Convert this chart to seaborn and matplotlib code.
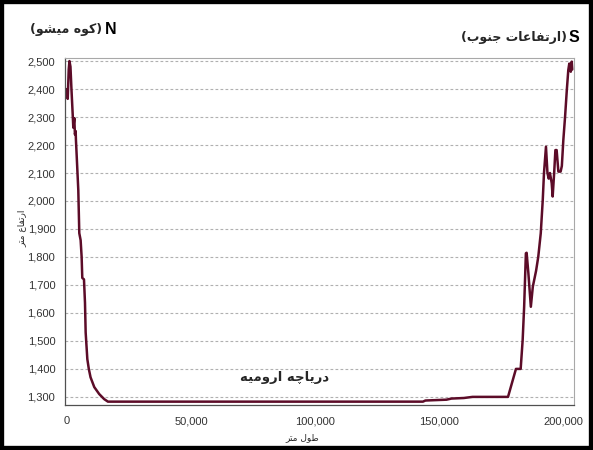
import numpy as np
import pandas as pd
import matplotlib
matplotlib.use('Agg')
import matplotlib.pyplot as plt
import seaborn as sns
from matplotlib.patches import Rectangle
from matplotlib.ticker import FuncFormatter

# -------------------------------
# Profile data (distance in m, elevation in m)
# -------------------------------
dist_m = [0, 300, 700, 1000, 1400, 1800, 2300, 2550, 2950, 3200, 3500, 3600,
          3900, 4560, 4960, 5500, 5900, 6170, 6850, 7260, 7530, 8200, 8800,
          9500, 11000, 13000, 15000, 16500,
          143500, 144500, 153000, 155000, 160000, 163500, 177800,
          181000, 182900, 183700, 184300, 185000, 185300, 186000, 187000,
          187800, 189100, 190000, 191000, 191800, 192300, 193100, 193700,
          194200, 194700, 195400, 195800, 196400, 196900, 197400, 198100,
          199000, 199500, 200100, 200800, 201500, 202100, 202500, 203100,
          203500, 203700]
elev_m = [2400, 2365, 2470, 2500, 2480, 2400, 2310, 2262, 2296, 2238, 2250, 2220,
          2164, 2039, 1885, 1860, 1801, 1725, 1720, 1636, 1530, 1435, 1400,
          1370, 1335, 1310, 1292, 1283,
          1283, 1287, 1290, 1294, 1296, 1300, 1300,
          1400, 1400, 1503, 1622, 1813, 1815, 1743, 1622,
          1694, 1750, 1801, 1885, 2003, 2100, 2194, 2100,
          2080, 2100, 2064, 2016, 2100, 2182, 2182, 2105,
          2105, 2125, 2218, 2301, 2396, 2468, 2491, 2462,
          2498, 2470]

y_ticks = list(range(1300, 2501, 100))
x_ticks = [0, 50000, 100000, 150000, 200000]

title_n = "(کوه میشو)"
title_s = "(ارتفاعات جنوب)"
lake_label = "دریاچه ارومیه"
y_label = "ارتفاع متر"
x_label = "طول متر"

# -------------------------------
# Simple Persian shaping (matplotlib has no text shaping)
# -------------------------------
FORMS = {
    'ا': ('\uFE8D', '\uFE8E', None, None),
    'ب': ('\uFE8F', '\uFE90', '\uFE91', '\uFE92'),
    'ت': ('\uFE95', '\uFE96', '\uFE97', '\uFE98'),
    'ج': ('\uFE9D', '\uFE9E', '\uFE9F', '\uFEA0'),
    'د': ('\uFEA9', '\uFEAA', None, None),
    'ر': ('\uFEAD', '\uFEAE', None, None),
    'ش': ('\uFEB5', '\uFEB6', '\uFEB7', '\uFEB8'),
    'ط': ('\uFEC1', '\uFEC2', '\uFEC3', '\uFEC4'),
    'ع': ('\uFEC9', '\uFECA', '\uFECB', '\uFECC'),
    'ف': ('\uFED1', '\uFED2', '\uFED3', '\uFED4'),
    'ل': ('\uFEDD', '\uFEDE', '\uFEDF', '\uFEE0'),
    'م': ('\uFEE1', '\uFEE2', '\uFEE3', '\uFEE4'),
    'ن': ('\uFEE5', '\uFEE6', '\uFEE7', '\uFEE8'),
    'ه': ('\uFEE9', '\uFEEA', '\uFEEB', '\uFEEC'),
    'و': ('\uFEED', '\uFEEE', None, None),
    'ی': ('\uFBFC', '\uFBFD', '\uFBFE', '\uFBFF'),
    'ک': ('\uFB8E', '\uFB8F', '\uFB90', '\uFB91'),
    'چ': ('\uFB7A', '\uFB7B', '\uFB7C', '\uFB7D'),
}


def fa(txt):
    out = []
    for i, c in enumerate(txt):
        if c not in FORMS:
            out.append(c)
            continue
        prev = txt[i - 1] if i > 0 else ''
        nxt = txt[i + 1] if i + 1 < len(txt) else ''
        jp = prev in FORMS and FORMS[prev][2] is not None
        jn = nxt in FORMS and FORMS[c][2] is not None
        iso, fin, ini, med = FORMS[c]
        if jp and jn:
            out.append(med)
        elif jp:
            out.append(fin)
        elif jn:
            out.append(ini)
        else:
            out.append(iso)
    s = ''.join(out)[::-1]
    return s.translate(str.maketrans('()', ')('))


# -------------------------------
# Plot
# -------------------------------
sns.set_style("white")
plt.rcParams['font.family'] = ['Liberation Sans', 'DejaVu Sans']

df = pd.DataFrame({'dist': dist_m, 'elev': elev_m})

fig = plt.figure(figsize=(5.93, 4.5), dpi=100)
W, H = 593, 450
ax = fig.add_axes([65 / W, 1 - 405 / H, (574 - 65) / W, (405 - 58) / H])

sns.lineplot(data=df, x='dist', y='elev', ax=ax, sort=False, estimator=None,
             color='#5c0c28', linewidth=1.8)

ax.set_xlim(-800, 204400)
ax.set_ylim(1271, 2511)
ax.set_yticks(y_ticks)
ax.set_xticks(x_ticks)
fmt = FuncFormatter(lambda v, p: f"{int(v):,}")
ax.xaxis.set_major_formatter(fmt)
ax.yaxis.set_major_formatter(fmt)
ax.set_xlabel('')
ax.set_ylabel('')

ax.yaxis.grid(True, linestyle=(0, (2.5, 2)), color='#b0b0b0', linewidth=0.8)
ax.xaxis.grid(False)

for side in ['top', 'right']:
    ax.spines[side].set_color('#a8a8a8')
    ax.spines[side].set_linewidth(0.8)
for side in ['left', 'bottom']:
    ax.spines[side].set_color('#505050')
    ax.spines[side].set_linewidth(0.9)

ax.tick_params(axis='both', direction='out', length=5, width=0.8,
               color='#505050', labelsize=8, labelcolor='#333333', pad=2)
ax.tick_params(axis='x', pad=3)

# titles and labels
fig.text(117 / W, 1 - 29 / H, 'N', ha='right', va='center',
         fontsize=11.5, fontweight='bold', color='black')
fig.text(102 / W, 1 - 29 / H, fa(title_n), ha='right', va='center',
         fontsize=9, fontweight='bold', family=['DejaVu Sans'])
fig.text(579 / W, 1 - 38 / H, 'S', ha='right', va='center',
         fontsize=11.5, fontweight='bold', color='black')
fig.text(567 / W, 1 - 38 / H, fa(title_s), ha='right', va='center',
         fontsize=9, fontweight='bold', family=['DejaVu Sans'])
fig.text(285 / W, 1 - 378 / H, fa(lake_label), ha='center', va='center',
         fontsize=9.5, fontweight='bold', family=['DejaVu Sans'])
fig.text(22 / W, 1 - 228 / H, fa(y_label), ha='center', va='center',
         rotation=90, fontsize=6.5, family=['DejaVu Sans'])
fig.text(302 / W, 1 - 438 / H, fa(x_label), ha='center', va='center',
         fontsize=6.5, family=['DejaVu Sans'])

# black outer frame
fig.patches.append(Rectangle((0, 0), 1, 1, transform=fig.transFigure,
                             fill=False, edgecolor='black', linewidth=6))

plt.savefig("out.png", dpi=100)
plt.close()
